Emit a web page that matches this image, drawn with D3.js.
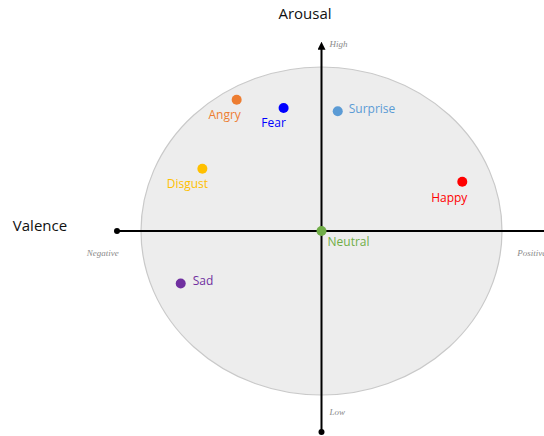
<!DOCTYPE html>
<html><head><meta charset="utf-8">
<script src="https://cdn.jsdelivr.net/npm/d3@7"></script>
<style>body{margin:0;background:#fff}svg{display:block}</style>
</head><body><svg id="c" width="544" height="436"></svg>
<script>
const emotions = ["Angry","Fear","Surprise","Disgust","Happy","Neutral","Sad"];
const valence  = [-0.47,-0.21,0.09,-0.66,0.78,0.0,-0.78];
const arousal  = [0.80,0.75,0.73,0.38,0.30,0.0,-0.32];
const colors   = ["#ED7D31","#0000FF","#5B9BD5","#FFC000","#FF0000","#70AD47","#7030A0"];
const axisTitles = ["Valence","Arousal"];
const poleLabels = ["Negative","Positive","Low","High"];

const svg = d3.select("#c");
const x = d3.scaleLinear().domain([-1,1]).range([141,502]);
const y = d3.scaleLinear().domain([-1,1]).range([395,67]);

// circle
svg.append("ellipse").attr("cx",x(0)).attr("cy",y(0))
  .attr("rx",x(1)-x(0)).attr("ry",y(-1)-y(0))
  .attr("fill","#EDEDED").attr("stroke","#C9C9C9").attr("stroke-width",1.2);

// axes
svg.append("defs").append("marker").attr("id","arr").attr("viewBox","0 0 10 10")
  .attr("refX",5).attr("refY",5).attr("markerWidth",4).attr("markerHeight",4).attr("orient","auto")
  .append("path").attr("d","M0,0L10,5L0,10z").attr("fill","#000");
svg.append("line").attr("x1",x(-1.133)).attr("x2",x(1.4)).attr("y1",y(0)).attr("y2",y(0))
  .attr("stroke","#000").attr("stroke-width",2);
svg.append("circle").attr("cx",x(-1.133)).attr("cy",y(0)).attr("r",3).attr("fill","#000");
svg.append("line").attr("x1",x(0)).attr("x2",x(0)).attr("y1",y(-1.226)).attr("y2",y(1.13))
  .attr("stroke","#000").attr("stroke-width",2).attr("marker-end","url(#arr)");
svg.append("circle").attr("cx",x(0)).attr("cy",y(-1.226)).attr("r",3).attr("fill","#000");

// pole labels
const pole = {font:"italic 9px 'Liberation Serif', serif", fill:"#8a8a8a"};
const pl = [[poleLabels[0],x(-1.3),y(0)+25,"start"],[poleLabels[1],x(1.085),y(0)+25,"start"],
            [poleLabels[2],x(0)+8,y(-1.12),"start"],[poleLabels[3],x(0)+8,y(1.12),"start"]];
svg.selectAll("text.pole").data(pl).enter().append("text").attr("class","pole")
  .attr("x",d=>d[1]).attr("y",d=>d[2]).attr("text-anchor",d=>d[3])
  .style("font",pole.font).attr("fill",pole.fill).text(d=>d[0]);

// titles
svg.append("text").attr("x",40).attr("y",231).attr("text-anchor","middle")
  .style("font","15px 'Open Sans', sans-serif").attr("fill","#111").text(axisTitles[0]);
svg.append("text").attr("x",305).attr("y",19).attr("text-anchor","middle")
  .style("font","15px 'Open Sans', sans-serif").attr("fill","#111").text(axisTitles[1]);

// points
const pts = emotions.map((e,i)=>({e,v:valence[i],a:arousal[i],c:colors[i]}));
const place = {Angry:[-12,15,"middle"],Fear:[-10,15,"middle"],Surprise:[11,-2,"start"],
  Disgust:[-15,15,"middle"],Happy:[-13,16,"middle"],Neutral:[6,11,"start"],Sad:[12,-2,"start"]};
svg.selectAll("circle.pt").data(pts).enter().append("circle").attr("class","pt")
  .attr("cx",d=>x(d.v)).attr("cy",d=>y(d.a)).attr("r",5).attr("fill",d=>d.c);
svg.selectAll("text.lb").data(pts).enter().append("text").attr("class","lb")
  .attr("x",d=>x(d.v)+place[d.e][0]).attr("y",d=>y(d.a)+place[d.e][1]+4)
  .attr("text-anchor",d=>place[d.e][2])
  .style("font","12px 'Open Sans', sans-serif").attr("fill",d=>d.c).text(d=>d.e);
</script></body></html>
